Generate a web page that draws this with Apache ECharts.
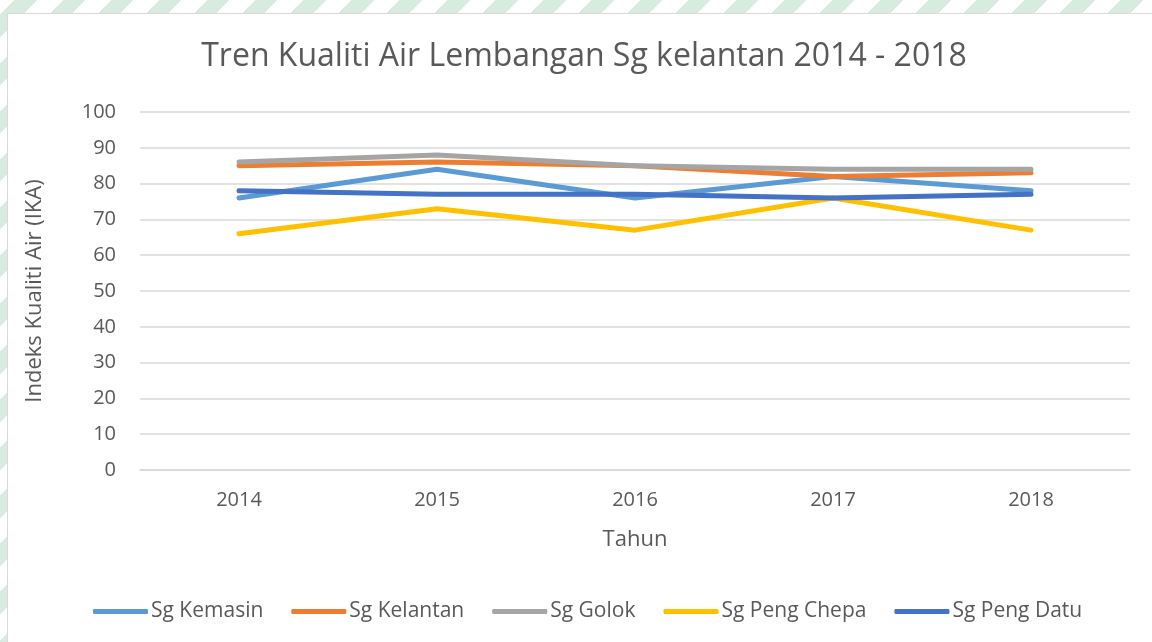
<!DOCTYPE html>
<html>
<head>
<meta charset="utf-8">
<title>Tren Kualiti Air Lembangan Sg kelantan 2014 - 2018</title>
<script src="https://cdn.jsdelivr.net/npm/echarts@6/dist/echarts.min.js"></script>
<style>
    html, body {
        margin: 0;
        padding: 0;
        width: 1152px;
        height: 642px;
        overflow: hidden;
    }
    body {
        position: relative;
        background: repeating-linear-gradient(-45deg, #ffffff 0px, #ffffff 18px, #d7ecde 18px, #d7ecde 34px);
    }
    #frame {
        position: absolute;
        left: 7px;
        top: 13px;
        right: 0;
        bottom: 0;
        background: #ffffff;
        border-left: 1px solid #d9d9d9;
        border-top: 1px solid #d9d9d9;
    }
    #chart {
        position: absolute;
        left: 0;
        top: 0;
        width: 1152px;
        height: 642px;
    }
</style>
</head>
<body>
<div id="frame"></div>
<div id="chart"></div>
<script>
    // data
    const years = ['2014', '2015', '2016', '2017', '2018'];
    const sgKemasin = [76, 84, 76, 82, 78];
    const sgKelantan = [85, 86, 85, 82, 83];
    const sgGolok = [86, 88, 85, 84, 84];
    const sgPengChepa = [66, 73, 67, 76, 67];
    const sgPengDatu = [78, 77, 77, 76, 77];

    const fontName = '"Open Sans", "Noto Sans", sans-serif';
    const textColor = '#595959';

    let chart = echarts.init(document.getElementById('chart'));

    function makeLine(name, data, color) {
        return {
            name: name,
            type: 'line',
            data: data,
            symbol: 'none',
            smooth: false,
            lineStyle: {
                width: 5,
                color: color,
                cap: 'round',
                join: 'round'
            },
            itemStyle: { color: color }
        };
    }

    let option = {
        animation: false,
        textStyle: { fontFamily: fontName },
        title: {
            text: 'Tren Kualiti Air Lembangan Sg kelantan 2014 - 2018',
            left: 579,
            textAlign: 'center',
            top: 36,
            textStyle: {
                fontFamily: fontName,
                fontSize: 32,
                fontWeight: 'normal',
                color: textColor
            }
        },
        grid: {
            left: 140,
            right: 22,
            top: 112,
            bottom: 172
        },
        legend: {
            left: 93,
            bottom: 20,
            padding: 0,
            itemWidth: 55,
            itemHeight: 5,
            itemGap: 28,
            icon: 'roundRect',
            textStyle: {
                fontFamily: fontName,
                fontSize: 21,
                color: textColor,
                padding: [0, 0, 0, -2]
            },
            data: ['Sg Kemasin', 'Sg Kelantan', 'Sg Golok', 'Sg Peng Chepa', 'Sg Peng Datu']
        },
        xAxis: {
            type: 'category',
            data: years,
            boundaryGap: true,
            name: 'Tahun',
            nameLocation: 'middle',
            nameGap: 59,
            nameTextStyle: {
                fontFamily: fontName,
                fontSize: 22,
                color: textColor
            },
            axisLine: {
                show: true,
                lineStyle: { color: '#d9d9d9', width: 1.5 }
            },
            axisTick: { show: false },
            axisLabel: {
                margin: 20,
                fontFamily: fontName,
                fontSize: 20,
                color: textColor
            }
        },
        yAxis: {
            type: 'value',
            min: 0,
            max: 100,
            interval: 10,
            name: 'Indeks Kualiti Air (IKA)',
            nameLocation: 'middle',
            nameGap: 94,
            nameTextStyle: {
                fontFamily: fontName,
                fontSize: 22,
                color: textColor
            },
            axisLine: { show: false },
            axisTick: { show: false },
            axisLabel: {
                margin: 24,
                fontFamily: fontName,
                fontSize: 20,
                color: textColor
            },
            splitLine: {
                lineStyle: { color: '#d9d9d9', width: 1.5 }
            }
        },
        series: [
            makeLine('Sg Kemasin', sgKemasin, '#5b9bd5'),
            makeLine('Sg Kelantan', sgKelantan, '#ed7d31'),
            makeLine('Sg Golok', sgGolok, '#a5a5a5'),
            makeLine('Sg Peng Chepa', sgPengChepa, '#ffc000'),
            makeLine('Sg Peng Datu', sgPengDatu, '#4472c4')
        ]
    };
    chart.setOption(option);
    window.addEventListener('resize', function () {
        chart.resize();
    });
</script>
</body>
</html>
